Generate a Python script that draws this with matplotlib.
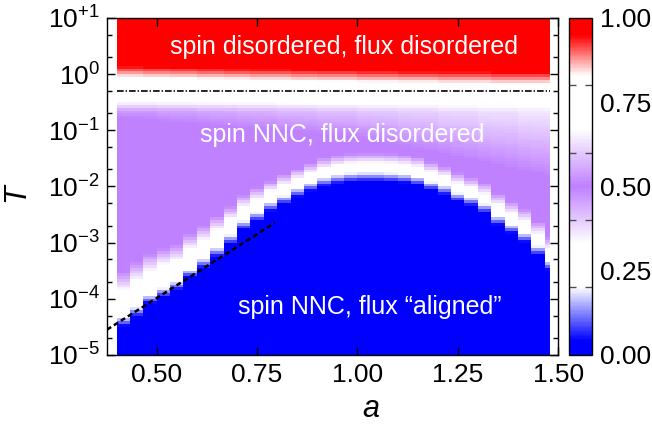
"""Phase diagram heat map: spin / flux order vs a and T."""

import numpy as np
import matplotlib
matplotlib.use('Agg')
import matplotlib.pyplot as plt
from matplotlib.colors import LinearSegmentedColormap
from matplotlib.ticker import FixedLocator, FixedFormatter

plt.rcParams['font.family'] = 'Liberation Sans'
plt.rcParams['mathtext.fontset'] = 'custom'
plt.rcParams['mathtext.rm'] = 'Liberation Sans'
plt.rcParams['mathtext.it'] = 'Liberation Sans:italic'

# column edges in a (last column is a half cell)
a_edges = np.append(np.arange(33) / 30.0 + 0.4, 1.48)
# log10(T) row edges
logT_edges = np.linspace(-5.0, 1.0, 121)

# per column: log10 T where the blue (flux "aligned") region ends
tc = [-4.32, -4.14, -3.92, -3.80, -3.68, -3.46, -3.28, -3.08, -2.85, -2.60,
      -2.45, -2.27, -2.15, -2.02, -1.92, -1.83, -1.78, -1.75, -1.74, -1.74,
      -1.75, -1.77, -1.81, -1.90, -1.98, -2.10, -2.18, -2.30, -2.52, -2.67,
      -2.82, -3.05, -3.32]
# width (decades) of the white band just above it
white_w = [0.40, 0.40, 0.35, 0.35, 0.30, 0.30, 0.28, 0.25, 0.22, 0.20,
           0.18, 0.15, 0.15, 0.12, 0.12, 0.12, 0.12, 0.12, 0.12, 0.12,
           0.12, 0.12, 0.12, 0.12, 0.12, 0.12, 0.12, 0.12, 0.15, 0.15,
           0.15, 0.15, 0.15]
# width (decades) of the fade from white into purple
fade_w = [0.40, 0.40, 0.38, 0.35, 0.35, 0.32, 0.30, 0.30, 0.28, 0.25,
          0.25, 0.22, 0.22, 0.22, 0.22, 0.22, 0.22, 0.22, 0.22, 0.22,
          0.22, 0.22, 0.22, 0.22, 0.22, 0.22, 0.22, 0.25, 0.25, 0.25,
          0.28, 0.28, 0.28]
# log10 T where purple starts to whiten going up
purple_top = [-0.80, -0.80, -0.82, -0.84, -0.86, -0.88, -0.90, -0.92, -0.94, -0.96,
              -0.98, -1.00, -1.02, -1.04, -1.06, -1.08, -1.10, -1.12, -1.15, -1.20,
              -1.25, -1.30, -1.35, -1.40, -1.45, -1.50, -1.55, -1.60, -1.65, -1.70,
              -1.75, -1.80, -1.85]
# value reached at T = 10^-0.65 on the way to white
mid_val = [0.54, 0.54, 0.54, 0.55, 0.55, 0.55, 0.56, 0.56, 0.56, 0.57,
           0.57, 0.57, 0.58, 0.58, 0.58, 0.59, 0.59, 0.59, 0.60, 0.60,
           0.60, 0.61, 0.61, 0.61, 0.62, 0.62, 0.62, 0.63, 0.63, 0.63,
           0.64, 0.64, 0.64]
# log10 T where white turns to red
red_start = [-0.05, -0.05, -0.06, -0.06, -0.07, -0.07, -0.08, -0.08, -0.09, -0.09,
             -0.10, -0.10, -0.10, -0.11, -0.11, -0.12, -0.12, -0.12, -0.13, -0.13,
             -0.13, -0.14, -0.14, -0.14, -0.15, -0.15, -0.15, -0.15, -0.16, -0.16,
             -0.16, -0.16, -0.16]
mid_top = -0.65     # log10 T of the mid_val node
white_top = -0.40   # log10 T of the white band below the red phase
red_width = 0.27    # decades from white to full red

# low-T fit line and the T = 0.5 transition line
fit_a = [0.376, 0.795]
fit_T = [2.8e-5, 2.26e-3]
T_line = 0.5

cmap = LinearSegmentedColormap.from_list('phase', [
    (0.00, (0.0, 0.0, 1.0)),
    (0.04, (0.0, 0.0, 1.0)),
    (0.20, (1.0, 1.0, 1.0)),
    (0.33, (1.0, 1.0, 1.0)),
    (0.50, (0.75, 0.50, 1.0)),
    (0.67, (1.0, 1.0, 1.0)),
    (0.83, (1.0, 1.0, 1.0)),
    (0.95, (1.0, 0.0, 0.0)),
    (1.00, (1.0, 0.0, 0.0)),
])

logT_mid = 0.5 * (logT_edges[1:] + logT_edges[:-1])
grid = np.zeros((len(logT_mid), len(tc)))
for j in range(len(tc)):
    p_lo = tc[j] + white_w[j] + fade_w[j]
    p_hi = min(max(purple_top[j], p_lo + 0.01), mid_top - 0.01)
    xs = [-6, tc[j] - 0.2, tc[j], tc[j] + white_w[j], p_lo, p_hi, mid_top,
          white_top, red_start[j], red_start[j] + red_width, 2]
    ys = [0, 0, 0.22, 0.30, 0.50, 0.50, mid_val[j], 0.75, 0.83, 1.0, 1.0]
    grid[:, j] = np.interp(logT_mid, xs, ys)

fig = plt.figure(figsize=(6.52, 4.28), dpi=100)
fig.patch.set_facecolor('white')
ax = fig.add_axes([0.164, 0.171, 0.692, 0.787])
cax = fig.add_axes([0.873, 0.171, 0.035, 0.787])

mesh = ax.pcolormesh(a_edges, 10 ** logT_edges, grid, cmap=cmap,
                     vmin=0, vmax=1, shading='flat')
ax.set_yscale('log')
ax.set_xlim(0.376, 1.5)
ax.set_ylim(1e-5, 1e1)

ax.plot(fit_a, fit_T, color='black', lw=1.8, linestyle=(0, (2, 1.3)))
ax.plot([a_edges[0], a_edges[-1]], [T_line, T_line], color='black', lw=1.2,
        linestyle=(0, (4, 1.2, 0.8, 1.2)))

ax.text(0.967, 3.06, 'spin disordered, flux disordered', color='white',
        fontsize=18, ha='center', va='center')
ax.text(0.961, 0.082, 'spin NNC, flux disordered', color='white',
        fontsize=18, ha='center', va='center')
ax.text(1.031, 7.2e-5, 'spin NNC, flux \u201caligned\u201d', color='white',
        fontsize=18, ha='center', va='center')

# ticks
ax.xaxis.set_major_locator(FixedLocator([0.5, 0.75, 1.0, 1.25, 1.5]))
ax.xaxis.set_major_formatter(FixedFormatter(['0.50', '0.75', '1.00', '1.25', '1.50']))
ax.xaxis.set_minor_locator(FixedLocator([]))
yt = [1e-5, 1e-4, 1e-3, 1e-2, 1e-1, 1e0, 1e1]
ax.yaxis.set_major_locator(FixedLocator(yt))
ax.yaxis.set_major_formatter(FixedFormatter(
    [r'$10^{-5}$', r'$10^{-4}$', r'$10^{-3}$', r'$10^{-2}$', r'$10^{-1}$',
     r'$10^{0}$', r'$10^{+1}$']))
ax.yaxis.set_minor_locator(FixedLocator([m * 10.0 ** e for e in range(-5, 1) for m in (2, 5)]))
ax.yaxis.set_minor_formatter(FixedFormatter([]))
ax.tick_params(which='both', direction='in', top=True, right=True,
               labelsize=19, width=1)
ax.tick_params(which='major', length=6)
ax.tick_params(axis='x', which='major', pad=6)
ax.tick_params(axis='y', which='major', pad=5)
ax.tick_params(which='minor', length=3.5)
for s in ax.spines.values():
    s.set_linewidth(1)

ax.set_xlabel('a', fontsize=22, style='italic')
ax.xaxis.set_label_coords(0.585, -0.115)
ax.set_ylabel('T', fontsize=22, style='italic')
ax.yaxis.set_label_coords(-0.167, 0.482)

cb = fig.colorbar(mesh, cax=cax)
cb.outline.set_linewidth(1)
cax.yaxis.set_major_locator(FixedLocator([0, 0.25, 0.5, 0.75, 1.0]))
cax.yaxis.set_major_formatter(FixedFormatter(['0.00', '0.25', '0.50', '0.75', '1.00']))
cax.yaxis.set_minor_locator(FixedLocator([0.2, 0.4, 0.6, 0.8]))
cax.tick_params(which='major', length=0, labelsize=19, pad=6)
cax.tick_params(which='minor', direction='in', length=5, width=1,
                left=True, right=True, colors='0.3')

fig.savefig('out.png', dpi=100)
